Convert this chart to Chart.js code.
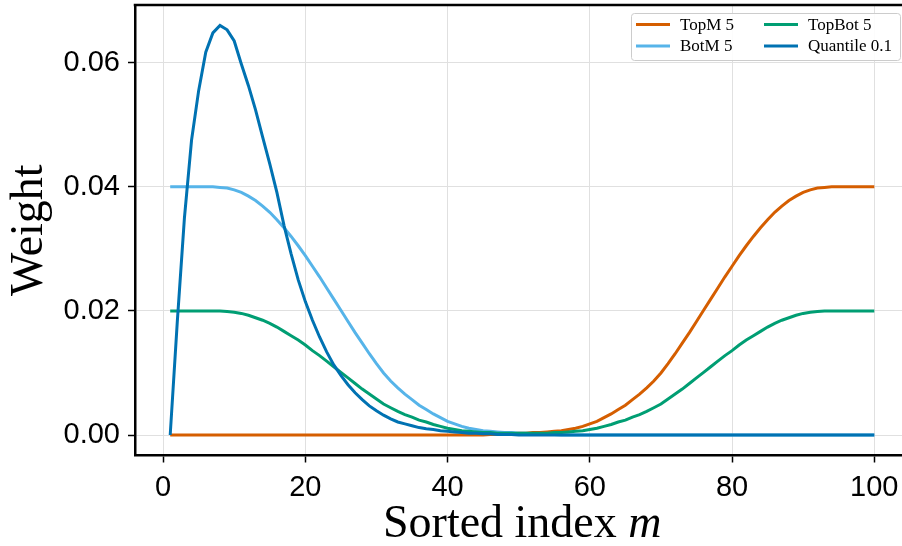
<!DOCTYPE html>
<html>
<head>
<meta charset="utf-8">
<script src="https://cdn.jsdelivr.net/npm/chart.js@4"></script>
<style>
  html, body { margin: 0; padding: 0; background: #fff; overflow: hidden; }
  #wrap { width: 902px; height: 546px; overflow: hidden; }
</style>
</head>
<body>
<div id="wrap"><canvas id="chart" width="912" height="546"></canvas></div>
<script>
// sorted index m = 1..100
const sortedIndex = Array.from({ length: 100 }, (_, i) => i + 1);
const xTicks = [0, 20, 40, 60, 80, 100];
const yTicks = [0, 0.02, 0.04, 0.06];

const topM = [
  0, 0, 0, 0, 0, 0, 0, 0, 0, 0,
  0, 0, 0, 0, 0, 0, 0, 0, 0, 0,
  0, 0, 0, 0, 0, 0, 0, 0, 0, 0,
  0, 0, 0, 0, 0, 0, 0, 0, 0, 0,
  0, 0, 0, 0, 0, 0.0001, 0.0001, 0.0002, 0.0002, 0.0003,
  0.0003, 0.0004, 0.0004, 0.0005, 0.0006, 0.0007, 0.0009, 0.0011, 0.0014, 0.0018,
  0.0022, 0.0028, 0.0034, 0.0041, 0.0048, 0.0057, 0.0066, 0.0076, 0.0087, 0.01,
  0.0115, 0.0131, 0.0148, 0.0165, 0.0183, 0.0201, 0.0219, 0.0237, 0.0255, 0.0272,
  0.0289, 0.0305, 0.032, 0.0334, 0.0347, 0.0359, 0.0369, 0.0378, 0.0385, 0.0391,
  0.0395, 0.0398, 0.0399, 0.04, 0.04, 0.04, 0.04, 0.04, 0.04, 0.04,
];
const botM = [
  0.04, 0.04, 0.04, 0.04, 0.04, 0.04, 0.04, 0.0399, 0.0398, 0.0395,
  0.0391, 0.0385, 0.0378, 0.0369, 0.0359, 0.0347, 0.0334, 0.032, 0.0305, 0.0289,
  0.0272, 0.0255, 0.0237, 0.0219, 0.0201, 0.0183, 0.0165, 0.0148, 0.0131, 0.0115,
  0.01, 0.0087, 0.0076, 0.0066, 0.0057, 0.0048, 0.0041, 0.0034, 0.0028, 0.0022,
  0.0018, 0.0014, 0.0011, 0.0009, 0.0007, 0.0006, 0.0005, 0.0004, 0.0004, 0.0003,
  0.0003, 0.0002, 0.0002, 0.0001, 0.0001, 0, 0, 0, 0, 0,
  0, 0, 0, 0, 0, 0, 0, 0, 0, 0,
  0, 0, 0, 0, 0, 0, 0, 0, 0, 0,
  0, 0, 0, 0, 0, 0, 0, 0, 0, 0,
  0, 0, 0, 0, 0, 0, 0, 0, 0, 0,
];
const topBot = [
  0.02, 0.02, 0.02, 0.02, 0.02, 0.02, 0.02, 0.02, 0.0199, 0.0198,
  0.0196, 0.0193, 0.0189, 0.0185, 0.018, 0.0174, 0.0167, 0.016, 0.0153, 0.0145,
  0.0136, 0.0128, 0.0119, 0.011, 0.0101, 0.0092, 0.0083, 0.0074, 0.0066, 0.0058,
  0.005, 0.0044, 0.0038, 0.0033, 0.0029, 0.0024, 0.0021, 0.0017, 0.0014, 0.0011,
  0.0009, 0.0007, 0.0006, 0.0005, 0.0004, 0.0004, 0.0003, 0.0003, 0.0003, 0.0003,
  0.0003, 0.0003, 0.0003, 0.0003, 0.0004, 0.0004, 0.0005, 0.0006, 0.0007, 0.0009,
  0.0011, 0.0014, 0.0017, 0.0021, 0.0024, 0.0029, 0.0033, 0.0038, 0.0044, 0.005,
  0.0058, 0.0066, 0.0074, 0.0083, 0.0092, 0.0101, 0.011, 0.0119, 0.0128, 0.0136,
  0.0145, 0.0153, 0.016, 0.0167, 0.0174, 0.018, 0.0185, 0.0189, 0.0193, 0.0196,
  0.0198, 0.0199, 0.02, 0.02, 0.02, 0.02, 0.02, 0.02, 0.02, 0.02,
];
const quantile = [
  0, 0.0183, 0.035, 0.0475, 0.0555, 0.0617, 0.0648, 0.066, 0.0653, 0.0635,
  0.0598, 0.0563, 0.0524, 0.048, 0.0437, 0.0391, 0.0338, 0.0292, 0.025, 0.0215,
  0.0185, 0.0158, 0.0134, 0.0113, 0.0096, 0.0081, 0.0068, 0.0057, 0.0047, 0.0039,
  0.0032, 0.0026, 0.0021, 0.0018, 0.0015, 0.0012, 0.001, 0.0009, 0.0007, 0.0006,
  0.0005, 0.0004, 0.0003, 0.0003, 0.0002, 0.0002, 0.0001, 0.0001, 0.0001, 0,
  0, 0, 0, 0, 0, 0, 0, 0, 0, 0,
  0, 0, 0, 0, 0, 0, 0, 0, 0, 0,
  0, 0, 0, 0, 0, 0, 0, 0, 0, 0,
  0, 0, 0, 0, 0, 0, 0, 0, 0, 0,
  0, 0, 0, 0, 0, 0, 0, 0, 0, 0,
];

const series = [
  { label: "TopM 5", values: topM, color: "#D55E00", order: 3 },
  { label: "BotM 5", values: botM, color: "#56B4E9", order: 2 },
  { label: "TopBot 5", values: topBot, color: "#009E73", order: 1 },
  { label: "Quantile 0.1", values: quantile, color: "#0072B2", order: 0 },
];

const SERIF = "'Liberation Serif', 'Times New Roman', serif";
const SANS = "'Liberation Sans', Arial, sans-serif";

const extras = {
  id: "extras",
  afterDraw(chart) {
    const { ctx, chartArea: a } = chart;
    ctx.save();
    // top / right spines
    ctx.strokeStyle = "#000";
    ctx.lineWidth = 2.5;
    ctx.beginPath();
    ctx.moveTo(a.left - 1.25, a.top);
    ctx.lineTo(a.right, a.top);
    ctx.lineTo(a.right, a.bottom);
    ctx.stroke();

    // axis titles
    ctx.fillStyle = "#000";
    ctx.font = `46px ${SERIF}`;
    ctx.save();
    ctx.translate(41.5, (a.top + a.bottom) / 2);
    ctx.rotate(-Math.PI / 2);
    ctx.textAlign = "center";
    ctx.textBaseline = "alphabetic";
    ctx.fillText("Weight", 0, 0);
    ctx.restore();

    const t1 = "Sorted index ", t2 = "m";
    ctx.font = `46px ${SERIF}`;
    const w1 = ctx.measureText(t1).width;
    ctx.font = `italic 46px ${SERIF}`;
    const w2 = ctx.measureText(t2).width;
    let x0 = (a.left + a.right) / 2 - (w1 + w2) / 2;
    ctx.textAlign = "left";
    ctx.textBaseline = "alphabetic";
    ctx.font = `46px ${SERIF}`;
    ctx.fillText(t1, x0, 537);
    ctx.font = `italic 46px ${SERIF}`;
    ctx.fillText(t2, x0 + w1, 537);

    // legend, two columns
    const bx = 631.5, by = 13.5, bw = 269, bh = 47;
    ctx.beginPath();
    ctx.roundRect(bx, by, bw, bh, 3);
    ctx.fillStyle = "rgba(255,255,255,0.9)";
    ctx.fill();
    ctx.strokeStyle = "#cccccc";
    ctx.lineWidth = 1;
    ctx.stroke();
    const cols = [636, 764];
    const rows = [24.5, 46];
    ctx.font = `17px ${SERIF}`;
    ctx.textBaseline = "middle";
    const legendOrder = [0, 1, 2, 3]; // column-major: TopM, BotM | TopBot, Quantile
    legendOrder.forEach((k, i) => {
      const s = series[k];
      const cx = cols[Math.floor(i / 2)], cy = rows[i % 2];
      ctx.strokeStyle = s.color;
      ctx.lineWidth = 3;
      ctx.beginPath();
      ctx.moveTo(cx, cy);
      ctx.lineTo(cx + 34, cy);
      ctx.stroke();
      ctx.fillStyle = "#000";
      ctx.fillText(s.label, cx + 44, cy + 1);
    });
    ctx.restore();
  },
};

new Chart(document.getElementById("chart"), {
  type: "line",
  data: {
    datasets: series.map((s) => ({
      label: s.label,
      data: sortedIndex.map((m, i) => ({ x: m, y: s.values[i] })),
      borderColor: s.color,
      backgroundColor: s.color,
      borderWidth: 3,
      pointRadius: 0,
      tension: 0,
      order: s.order,
    })),
  },
  options: {
    responsive: false,
    animation: false,
    layout: { padding: { top: 5, right: 2.5, left: 0, bottom: 0 } },
    plugins: { legend: { display: false }, tooltip: { enabled: false } },
    scales: {
      x: {
        type: "linear",
        min: -3.95,
        max: 104.95,
        afterBuildTicks: (s) => { s.ticks = xTicks.map((v) => ({ value: v })); },
        afterFit: (s) => {
          s.height = 90.5;
          s.paddingLeft = 0; s.paddingRight = 0;
        },
        ticks: {
          callback: (v) => String(v),
          font: { family: SANS, size: 29 },
          color: "#000",
          padding: 8,
          maxRotation: 0,
        },
        grid: { color: "#e0e0e0", lineWidth: 1, tickColor: "#000", tickLength: 7, tickWidth: 1.5 },
        border: { color: "#000", width: 2.5 },
      },
      y: {
        type: "linear",
        min: -0.0033,
        max: 0.0693,
        afterBuildTicks: (s) => { s.ticks = yTicks.map((v) => ({ value: v })); },
        afterFit: (s) => {
          s.width = 135;
          s.paddingTop = 0; s.paddingBottom = 0;
        },
        ticks: {
          callback: (v) => Number(v).toFixed(2),
          font: { family: SANS, size: 29 },
          color: "#000",
          padding: 8,
        },
        grid: { color: "#e0e0e0", lineWidth: 1, tickColor: "#000", tickLength: 7, tickWidth: 1.5 },
        border: { color: "#000", width: 2.5 },
      },
    },
  },
  plugins: [extras],
});
</script>
</body>
</html>
